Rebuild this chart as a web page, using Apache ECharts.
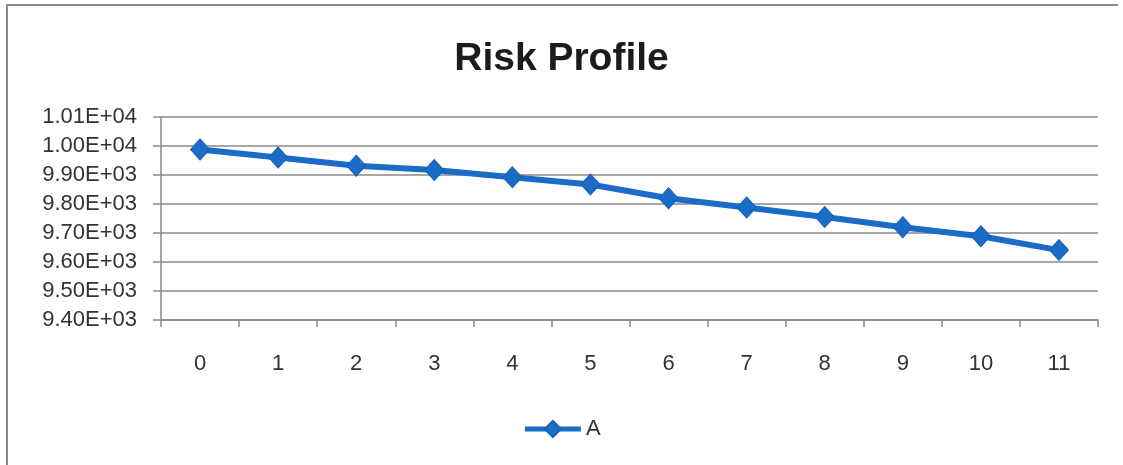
<!DOCTYPE html>
<html>
<head>
<meta charset="utf-8">
<script src="https://cdn.jsdelivr.net/npm/echarts@6/dist/echarts.min.js"></script>
<style>
html,body{margin:0;padding:0;background:#fff;}
#chart{width:1123px;height:465px;}
</style>
</head>
<body>
<div id="chart"></div>
<script>
var titleText = 'Risk Profile';
var seriesName = 'A';
var categories = ['0','1','2','3','4','5','6','7','8','9','10','11'];
var seriesA = [9988, 9960, 9932, 9917, 9892, 9867, 9820, 9788, 9755, 9720, 9689, 9641];
var yTickValues = [9400, 9500, 9600, 9700, 9800, 9900, 10000, 10100];
var yTickLabels = ['9.40E+03','9.50E+03','9.60E+03','9.70E+03','9.80E+03','9.90E+03','1.00E+04','1.01E+04'];

var FONT = 'Liberation Sans';
var chart = echarts.init(document.getElementById('chart'), null, {renderer:'canvas'});
chart.setOption({
  backgroundColor: '#ffffff',
  animation: false,
  title: {
    text: titleText,
    left: 'center',
    top: 35,
    textStyle: {fontFamily: FONT, fontWeight: 'bold', fontSize: 39, color: '#1c1c1c'}
  },
  legend: {
    data: [seriesName],
    bottom: 20,
    left: 'center',
    itemWidth: 56,
    itemHeight: 20,
    itemGap: 4,
    lineStyle: {width: 5},
    textStyle: {fontFamily: FONT, fontSize: 22, color: '#333333'}
  },
  grid: {left: 161, right: 25, top: 117, bottom: 145, containLabel: false},
  xAxis: {
    type: 'category',
    data: categories,
    boundaryGap: true,
    axisLine: {show: true, lineStyle: {color: '#8a8a8a', width: 1.5}},
    axisTick: {show: true, length: 7, lineStyle: {color: '#8a8a8a', width: 1.5}},
    axisLabel: {margin: 33, fontFamily: FONT, fontSize: 22, color: '#333333'},
    splitLine: {show: false}
  },
  yAxis: {
    type: 'value',
    min: yTickValues[0],
    max: yTickValues[yTickValues.length - 1],
    interval: 100,
    axisLine: {show: true, lineStyle: {color: '#8a8a8a', width: 1.5}},
    axisTick: {show: true, length: 8, lineStyle: {color: '#8a8a8a', width: 1.5}},
    axisLabel: {
      margin: 24, fontFamily: FONT, fontSize: 22, color: '#333333',
      formatter: function (v) {
        var i = yTickValues.indexOf(v);
        return i >= 0 ? yTickLabels[i] : '';
      }
    },
    splitLine: {show: true, lineStyle: {color: '#8a8a8a', width: 1.5}}
  },
  series: [{
    name: seriesName,
    type: 'line',
    data: seriesA,
    symbol: 'diamond',
    symbolSize: [19, 21],
    color: '#1a6cc8',
    lineStyle: {width: 6, color: '#1a6cc8'},
    itemStyle: {color: '#1a6cc8', borderColor: '#1660b5', borderWidth: 1}
  }],
  graphic: [{
    type: 'polyline',
    shape: {points: [[7, 470], [7, 5], [1118, 5]]},
    style: {stroke: '#8a8a8a', lineWidth: 2, fill: null},
    silent: true
  }]
});
</script>
</body>
</html>
